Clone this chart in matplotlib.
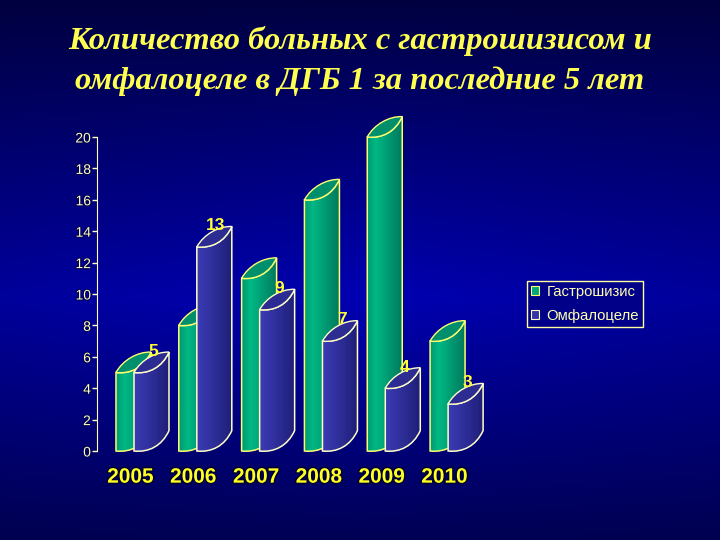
import numpy as np
import matplotlib
matplotlib.use('Agg')
import matplotlib.pyplot as plt
from matplotlib.patches import PathPatch, Patch
from matplotlib.path import Path
import matplotlib.patheffects as pe

years = ['2005', '2006', '2007', '2008', '2009', '2010']
gastro = [5, 8, 11, 16, 20, 7]
omphalo = [5, 13, 9, 7, 4, 3]
yticks = [0, 2, 4, 6, 8, 10, 12, 14, 16, 18, 20]
title = 'Количество больных с гастрошизисом и\nомфалоцеле в ДГБ 1 за последние 5 лет'
legend_names = ['Гастрошизис', 'Омфалоцеле']

W = 0.557      # cylinder width in category units
DY = 1.3       # rise of the top ellipse in value units
GREEN_X = -0.231
BLUE_X = 0.056


def arc(x0, y, upper):
    # one side of the slanted ellipse, going left to right
    if upper:
        return [(x0 + 0.2 * W, y + 0.62 * DY), (x0 + 0.62 * W, y + 1.02 * DY), (x0 + W, y + DY)]
    return [(x0 + 0.42 * W, y - 0.08 * DY), (x0 + 0.8 * W, y + 0.25 * DY), (x0 + W, y + DY)]


def cylinder(ax, x0, value, colors, edge, top_color, z):
    low = arc(x0, 0, False)
    high = arc(x0, value, False)
    verts = [(x0, 0)] + low + [(x0 + W, value + DY)]
    verts += [high[1], high[0], (x0, value), (x0, 0)]
    codes = [Path.MOVETO] + [Path.CURVE4] * 3 + [Path.LINETO] + [Path.CURVE4] * 3 + [Path.CLOSEPOLY]
    body = PathPatch(Path(verts, codes), facecolor='none', edgecolor=edge, lw=1.1, zorder=z + 0.2, clip_on=False)
    ax.add_patch(body)
    ramp = np.linspace(0, 1, 64)
    c = np.array([np.interp(ramp, [0, 0.25, 1], [matplotlib.colors.to_rgb(k)[i] for k in colors]) for i in range(3)])
    im = ax.imshow(c.T[None, :, :], extent=[x0, x0 + W, -1, value + DY + 1], aspect='auto', zorder=z)
    im.set_clip_path(body)
    im.set_clip_box(fig.bbox)  # the tallest bar goes over the top of the axes

    up = arc(x0, value, True)
    top = [(x0, value)] + up + [high[1], high[0], (x0, value), (x0, value)]
    tcodes = [Path.MOVETO] + [Path.CURVE4] * 6 + [Path.CLOSEPOLY]
    ax.add_patch(PathPatch(Path(top, tcodes), facecolor=top_color, edgecolor=edge, lw=1.0, zorder=z + 0.3, clip_on=False))


fig = plt.figure(figsize=(7.2, 5.4), dpi=100)

# background
bg = fig.add_axes([0, 0, 1, 1], zorder=-1)
yy, xx = np.mgrid[0:1:270j, 0:1:360j]
k = np.clip(1 - np.abs(yy - 0.55) / 0.55, 0, 1)
k = k * (0.8 + 0.2 * np.clip(1 - np.abs(xx - 0.5) * 2, 0, 1))
rgb = np.zeros(xx.shape + (3,))
rgb[:, :, 2] = 0.25 + 0.45 * k
bg.imshow(rgb, extent=[0, 1, 1, 0], aspect='auto')
bg.axis('off')

ax = fig.add_axes([96.5 / 720, 1 - 451 / 540, (476 - 96.5) / 720, 314 / 540])
ax.patch.set_alpha(0)

for i in range(len(years)):
    cylinder(ax, i + GREEN_X, gastro[i], ['#009a72', '#00b884', '#007a5e'], '#ffff70', '#008f6c', 10 + 2 * i)
    cylinder(ax, i + BLUE_X, omphalo[i], ['#3c3cb4', '#3535a8', '#1f1f78'], '#ffffc8', '#2c2c92', 11 + 2 * i)
    ax.text(i + 0.36, omphalo[i] + 1.35, str(omphalo[i]), color='#ffff33', fontsize=12.5, ha='center', va='center',
            family='Liberation Sans', fontweight='bold', zorder=40)

ax.set_xlim(-0.541, 5.5)
ax.set_ylim(0, 20)
ax.set_xticks(range(len(years)))
ax.set_xticklabels(years, family='Liberation Sans', fontweight='bold', fontsize=15, color='#ffff20')
ax.tick_params(axis='x', length=0, pad=12)
ax.set_yticks(yticks)
ax.set_yticklabels(yticks, family='Liberation Sans', fontsize=10, color='#ffffc0')
ax.tick_params(axis='y', length=3.5, width=1, color='#ffffc0', pad=0.5)
for s in ['top', 'right', 'bottom']:
    ax.spines[s].set_visible(False)
ax.spines['left'].set_color('#ffffc0')
for lab in ax.get_xticklabels():
    lab.set_path_effects([pe.withStroke(linewidth=2.5, foreground='#000038')])
for lab in ax.get_yticklabels():
    lab.set_path_effects([pe.withStroke(linewidth=1.5, foreground='#000050')])

handles = [Patch(facecolor='#00a87c', edgecolor='#ffff70', lw=0.8),
           Patch(facecolor='#3535a8', edgecolor='#ffffc8', lw=0.8)]
leg = fig.legend(handles, legend_names, loc='upper left', bbox_to_anchor=(527 / 720, 1 - 281 / 540),
                 borderaxespad=0, handlelength=0.55, handleheight=0.55, handletextpad=0.5,
                 labelspacing=0.7, borderpad=0.25, fancybox=False, framealpha=1,
                 prop={'family': 'Liberation Sans', 'size': 10.7})
leg.get_frame().set_facecolor('#000088')
leg.get_frame().set_edgecolor('#ffffa0')
for t in leg.get_texts():
    t.set_color('#ffffb0')

fig.text(0.5, 1 - 61 / 540, title, ha='center', va='center', color='#ffff50', fontsize=23.4,
         family='Liberation Serif', style='italic', fontweight='bold', linespacing=1.45)

fig.savefig('out.png', dpi=100)
